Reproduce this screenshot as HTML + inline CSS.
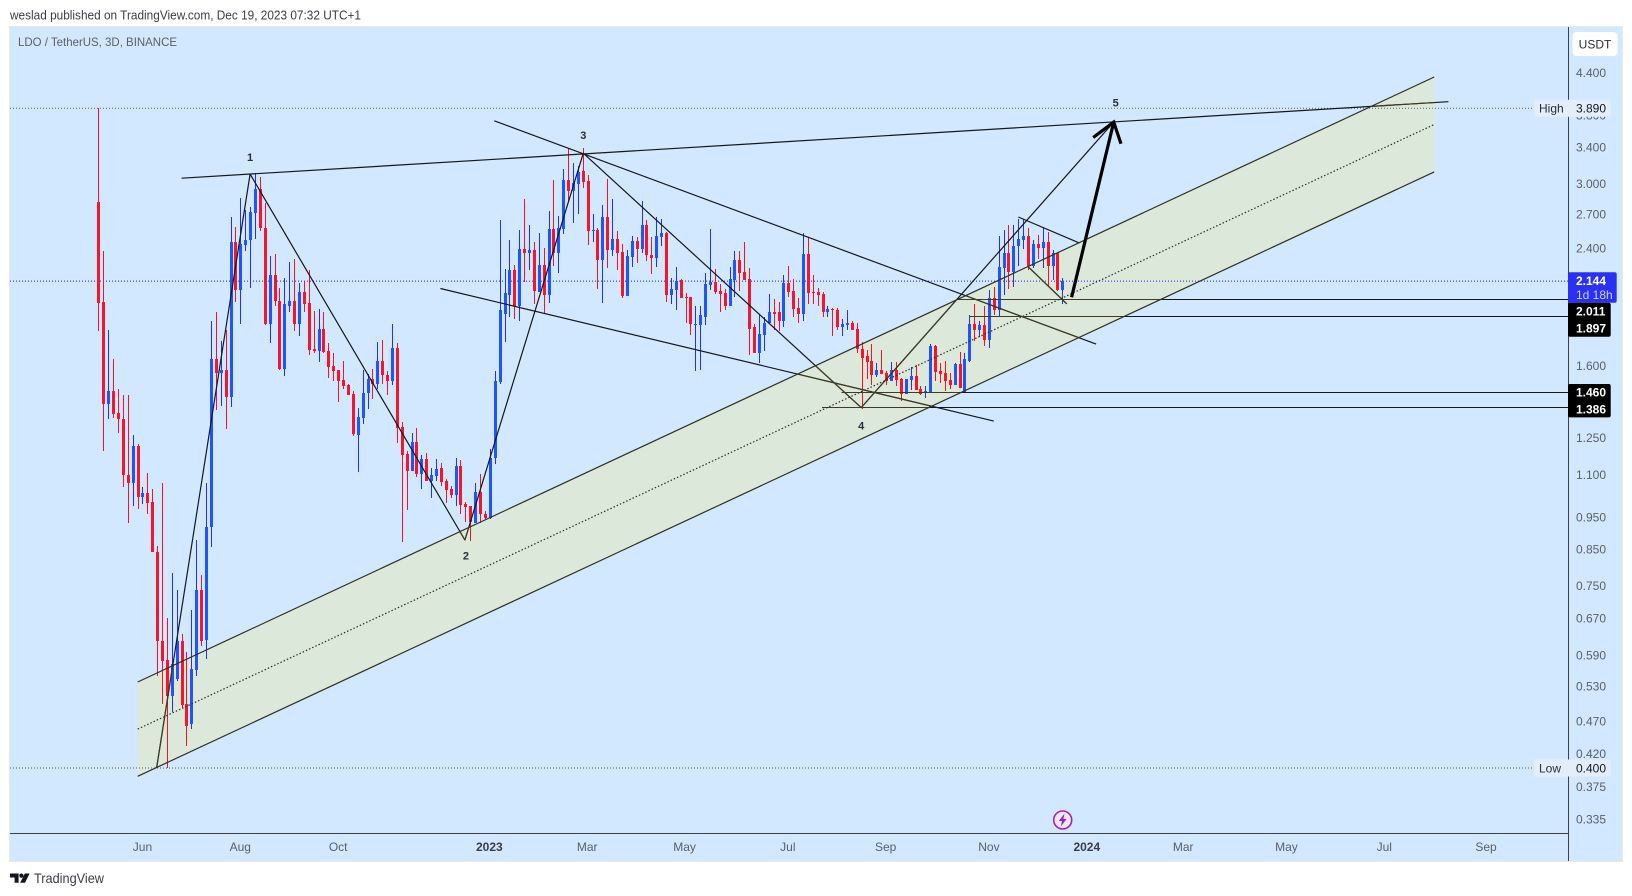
<!DOCTYPE html>
<html lang="en">
<head>
<meta charset="utf-8">
<title>LDO / TetherUS 3D chart</title>
<style>
html,body{margin:0;padding:0;background:#fff;width:1632px;height:896px;overflow:hidden}
svg{display:block;font-family:"Liberation Sans",sans-serif}
</style>
</head>
<body>
<svg id="chart" xmlns="http://www.w3.org/2000/svg" width="1632" height="896" viewBox="0 0 1632 896">
  <text x="10" y="19.5" font-size="13" fill="#3a3d45" textLength="351" lengthAdjust="spacingAndGlyphs">weslad published on TradingView.com, Dec 19, 2023 07:32 UTC+1</text>
  <rect x="9.5" y="26.5" width="1613" height="835" fill="#d1e8ff" stroke="#e8e9ec"/>
  <text x="18" y="46" font-size="12" fill="#5b6068" textLength="159" lengthAdjust="spacingAndGlyphs">LDO / TetherUS, 3D, BINANCE</text>
  <g id="overlays" color="#15171c"></g>
  <g id="axes"></g>
  <g>
    <circle cx="1062.7" cy="820" r="9" fill="#f4e6f7" stroke="#9c27b0" stroke-width="1.6"/>
    <polygon points="1064.5,813.5 1058.8,821 1062,821 1060.8,826.5 1066.6,819 1063.4,819" fill="#9c27b0"/>
  </g>
  <g>
    <path d="M10 873.5h8.6v9.3h-4v-5.3h-4.6z" fill="#131722"/>
    <circle cx="21.4" cy="875.6" r="2.1" fill="#131722"/>
    <polygon points="24.8,873.5 29.6,873.5 25,882.8 20.2,882.8" fill="#131722"/>
    <text x="34" y="883" font-size="14" fill="#3a3d45" textLength="70" lengthAdjust="spacingAndGlyphs">TradingView</text>
  </g>
</svg>
<script>
// ---- candle data (3D bars, USDT) ----
const opens = [
2.813,1.998,1.405,1.469,1.362,1.334,1.100,1.067,1.215,1.019,
1.033,1.001,.843,.620,.580,.513,.543,.620,.499,.465,
.561,.739,.622,.918,1.636,1.563,1.579,1.439,2.450,2.076,
2.425,2.467,2.710,2.942,2.572,1.852,2.186,2.005,1.585,1.970,
2.005,1.852,2.062,1.991,1.699,1.687,1.820,1.687,1.602,1.580,
1.526,1.500,1.454,1.262,1.339,1.459,1.531,1.505,1.630,1.552,
1.521,1.705,1.298,1.182,1.115,1.232,1.104,1.162,1.077,1.096,
1.126,1.077,1.048,1.026,1.134,.995,.988,.932,1.037,.961,
.948,1.166,1.516,1.911,2.040,2.224,1.964,2.392,2.359,2.383,
2.062,2.270,2.040,2.563,2.359,2.563,3.036,2.922,2.994,3.131,
3.026,2.545,2.554,2.302,2.671,2.383,2.476,2.367,2.033,2.326,
2.459,2.392,2.598,2.342,2.318,2.494,2.527,2.040,2.076,2.149,
2.026,2.026,1.840,1.840,1.897,2.113,2.134,2.069,2.054,1.964,
2.149,2.302,2.209,2.156,1.827,1.675,1.783,1.858,1.930,1.924,
1.871,2.127,2.069,1.957,1.911,2.350,2.062,2.062,2.048,1.924,
1.950,1.943,1.833,1.840,1.858,1.820,1.699,1.653,1.630,1.552,
1.580,1.563,1.521,1.580,1.531,1.454,1.526,1.547,1.479,1.459,
1.464,1.711,1.574,1.563,1.526,1.500,1.613,1.459,1.630,1.846,
1.808,1.840,1.752,2.019,1.943,2.240,2.359,2.209,2.416,2.467,
2.503,2.262,2.433,2.400,2.450,2.262,2.359,2.076];
const highs = [
3.890,2.375,1.808,1.641,1.479,1.449,1.445,1.262,1.223,1.055,
1.107,1.048,.860,1.070,.671,.784,.739,.635,.597,.690,
.878,.778,1.070,1.865,1.924,1.746,1.808,2.671,2.581,2.852,
2.736,2.765,3.109,3.068,2.804,2.334,2.350,2.090,2.164,2.286,
2.310,2.127,2.142,2.224,1.937,1.950,1.930,1.734,1.675,1.580,
1.630,1.505,1.469,1.386,1.580,1.558,1.585,1.740,1.752,1.574,
1.852,1.734,1.320,1.194,1.271,1.293,1.178,1.186,1.126,1.162,
1.146,1.085,1.059,1.166,1.158,1.001,.988,1.070,1.104,.971,
1.203,1.574,2.644,2.232,2.467,2.270,2.554,2.843,2.598,2.450,
2.527,2.400,2.727,3.036,2.681,3.153,3.397,3.219,3.186,3.397,
3.089,2.699,2.572,2.784,3.046,2.843,2.545,2.433,2.383,2.503,
2.494,2.823,2.644,2.494,2.671,2.653,2.536,2.164,2.247,2.156,
2.054,2.026,1.964,1.970,2.201,2.563,2.232,2.120,2.083,2.247,
2.375,2.375,2.450,2.240,1.852,1.910,1.897,2.048,2.012,1.998,
2.186,2.255,2.156,2.019,2.527,2.494,2.186,2.090,2.062,1.970,
1.957,1.957,1.878,1.943,1.865,1.858,1.740,1.693,1.728,1.619,
1.693,1.574,1.624,1.624,1.536,1.531,1.596,1.607,1.495,1.495,
1.728,1.717,1.619,1.630,1.563,1.619,1.681,1.675,1.904,1.984,
1.871,1.970,2.076,2.098,2.503,2.554,2.598,2.598,2.653,2.653,
2.572,2.467,2.511,2.581,2.536,2.383,2.359,2.164];
const lows = [
1.802,1.194,1.334,1.339,1.271,1.055,.932,.988,.978,.995,
.961,.843,.549,.499,.400,.485,.540,.492,.431,.457,
.549,.609,.582,.857,1.376,1.395,1.289,1.391,1.998,1.852,
2.375,2.090,2.475,2.545,1.840,1.729,1.970,1.580,1.547,1.930,
1.802,1.776,1.930,1.663,1.675,1.624,1.675,1.536,1.521,1.415,
1.479,1.445,1.258,1.111,1.311,1.381,1.430,1.479,1.505,1.445,
1.500,1.227,.872,.974,1.115,1.092,1.048,1.077,1.015,1.077,
1.059,.998,1.015,.988,.961,.935,.875,.932,.932,.945,
.945,1.139,1.505,1.735,1.897,1.878,1.865,2.134,2.224,1.978,
2.062,1.917,1.991,2.262,2.201,2.519,2.813,2.618,2.699,2.952,
2.425,2.450,2.083,1.991,2.240,2.334,2.224,2.019,2.033,2.247,
2.279,2.358,2.295,2.194,2.247,2.416,1.998,1.984,1.943,2.019,
1.858,1.783,1.574,1.580,1.840,2.076,2.048,1.930,1.943,1.964,
2.026,2.069,2.149,1.663,1.675,1.619,1.687,1.846,1.808,1.802,
1.833,2.026,1.891,1.858,1.865,1.984,1.984,1.970,1.891,1.897,
1.776,1.808,1.776,1.808,1.814,1.675,1.381,1.531,1.500,1.541,
1.558,1.500,1.521,1.495,1.420,1.454,1.474,1.474,1.449,1.435,
1.464,1.521,1.510,1.469,1.479,1.500,1.484,1.459,1.624,1.746,
1.770,1.711,1.705,1.904,1.897,2.040,2.083,2.098,2.262,2.392,
2.224,2.240,2.310,2.240,2.105,2.149,2.069,1.978];
const closes = [
1.991,1.405,1.469,1.357,1.334,1.100,1.070,1.215,1.019,1.033,
.998,.843,.620,.578,.513,.572,.620,.497,.463,.563,
.739,.620,.918,1.636,1.563,1.579,1.439,2.450,2.076,2.433,
2.467,2.717,2.942,2.572,1.852,2.186,2.005,1.585,1.978,2.005,
1.846,2.062,1.984,1.693,1.687,1.820,1.681,1.596,1.574,1.521,
1.495,1.449,1.267,1.343,1.459,1.531,1.505,1.630,1.552,1.521,
1.705,1.293,1.178,1.115,1.232,1.104,1.162,1.077,1.100,1.123,
1.073,1.044,1.026,1.134,.991,.984,.935,1.037,.961,.948,
1.166,1.521,1.943,2.055,2.224,1.964,2.392,2.359,2.383,2.069,
2.270,2.040,2.563,2.359,2.572,3.036,2.922,3.005,3.120,3.015,
2.545,2.554,2.302,2.671,2.383,2.476,2.358,2.033,2.334,2.459,
2.392,2.598,2.342,2.318,2.503,2.527,2.040,2.083,2.142,2.019,
2.019,1.846,1.846,1.904,2.120,2.134,2.062,2.048,1.964,2.156,
2.302,2.201,2.149,1.820,1.675,1.789,1.858,1.930,1.917,1.871,
2.127,2.062,1.950,1.911,2.350,2.054,2.054,2.040,1.924,1.950,
1.943,1.833,1.846,1.858,1.814,1.699,1.647,1.624,1.552,1.580,
1.558,1.521,1.580,1.526,1.454,1.531,1.547,1.474,1.454,1.469,
1.711,1.569,1.558,1.521,1.500,1.613,1.484,1.636,1.846,1.814,
1.840,1.752,2.019,1.943,2.247,2.359,2.209,2.416,2.476,2.503,
2.262,2.433,2.400,2.450,2.262,2.358,2.076,2.144];

// ---- axis labels ----
const priceTicks = [4.4,3.8,3.4,3.0,2.7,2.4,1.6,1.25,1.1,.95,.85,.75,.67,.59,.53,.47,.42,.375,.335];
const timeLabels = ["Jun","Aug","Oct","2023","Mar","May","Jul","Sep","Nov","2024","Mar","May","Jul","Sep"];
const timeBars = [8.9,28.9,48.9,79.8,99.8,119.7,140.8,160.8,181.9,201.9,221.6,242.7,262.7,283.5];

// ---- reference values ----
const highPrice = 3.89;
const lowPrice = 0.4;
const lastPrice = 2.144;
const levelPrices = [2.011,1.897,1.46,1.386];
const levelStartBars = [175.5,177.8,151.8,147.8];

// ---- drawings, as [bar index, price] ----
const wavePath = [[11.8,.4],[30.9,3.1],[74.8,.878],[99,3.332],[155.8,1.386],[207.4,3.709]];
const topTrend = [[16.9,3.057],[275.8,3.98]];
const upperWedge = [[80.8,3.726],[203.8,1.725]];
const lowerWedge = [[69.8,2.09],[182.9,1.323]];
const flagUpper = [[187.9,2.674],[200.4,2.444]];
const flagLower = [[190,2.249],[197.8,1.982]];
const channelUpper = [[7.93,.538],[272.9,4.333]];
const channelLower = [[7.93,.3887],[272.9,3.124]];
const arrowShaft = [[198.8,2.028],[207.4,3.709]];
const arrowHead = [[203.2,3.517],[207.4,3.709],[208.9,3.443]];
const waveLabels = ["1","2","3","4","5"];
const waveLabelBars = [30.9,75,99,155.8,207.8];
const waveLabelPrices = [3.29,.832,3.545,1.302,3.97];

// ---- axis functions ----
function xScale(bar){ return 98.9 + 4.893*bar; }
function yScale(price){ return 108.3 + 290*Math.log(3.89/price); }

const NS = "http://www.w3.org/2000/svg";
function mk(tag, parent, attrs){
  const el = document.createElementNS(NS, tag);
  for (const k in attrs) el.setAttribute(k, attrs[k]);
  parent.appendChild(el);
  return el;
}
function pts(list){ return list.map(function(p){ return xScale(p[0]).toFixed(1)+","+yScale(p[1]).toFixed(1); }).join(" "); }

const overlays = document.getElementById("overlays");
const axes = document.getElementById("axes");
const PLOT_RIGHT = 1568;

// channel fill
const channelPts = [channelUpper[0],channelUpper[1],channelLower[1],channelLower[0]];
const fill = mk("polygon", overlays, {points:pts(channelPts), fill:"#dce9da"});



// reference lines behind candles
function hDotted(price, color, name){
  const l = mk("line", overlays, {x1:10, x2:PLOT_RIGHT, y1:yScale(price), y2:yScale(price), stroke:color, "stroke-width":1, "stroke-dasharray":"1 2"});
  
  
}
hDotted(highPrice, "#5b6068", "high-price-line");
hDotted(lowPrice, "#5b6068", "low-price-line");
hDotted(lastPrice, "#1c1cf0", "last-price-line");

// candles
const candleLayer = mk("g", overlays, {"shape-rendering":"crispEdges"});


opens.forEach(function(o, i){
  const c = closes[i], up = c >= o;
  const col = Math.floor(xScale(i));
  const g = mk("g", candleLayer, {});
  
  
  const wy1 = Math.round(yScale(highs[i])), wy2 = Math.round(yScale(lows[i]));
  const wick = mk("rect", g, {x:col, y:wy1, width:1, height:Math.max(1,wy2-wy1), fill: up ? "#2430f0" : "#f8121f"});
  
  
  const by1 = Math.round(yScale(Math.max(o,c))), by2 = Math.round(yScale(Math.min(o,c)));
  const body = mk("rect", g, {x:col-1, y:by1, width:3, height:Math.max(1,by2-by1), fill: up ? "#1f55fb" : "#f5162c"});
  
  
});

// trend drawings (stroke follows currentColor so the tinted copy can recolour them)
const defs = mk("defs", overlays, {});
const clip = mk("clipPath", defs, {id:"channelClip"});
mk("polygon", clip, {points:pts(channelPts)});

const lines = mk("g", overlays, {id:"drawingLines", fill:"none", stroke:"currentColor", "stroke-width":1.2, "stroke-linejoin":"round"});


function drawLine(list, name){
  const l = mk("polyline", lines, {points:pts(list)});
  
  
}
drawLine(wavePath, "elliott-wave-path");
drawLine(topTrend, "top-trendline");
drawLine(upperWedge, "upper-wedge-line");
drawLine(lowerWedge, "lower-wedge-line");
drawLine(flagUpper, "flag-upper-line");
drawLine(flagLower, "flag-lower-line");
levelPrices.forEach(function(p, i){
  const l = mk("line", lines, {x1:xScale(levelStartBars[i]), x2:PLOT_RIGHT, y1:yScale(p), y2:yScale(p), "shape-rendering":"crispEdges", "stroke-width":1});
  
  
});

// same drawings tinted olive where the channel fill covers them
const tint = mk("use", overlays, {href:"#drawingLines", "clip-path":"url(#channelClip)", color:"#3d3c24"});



// channel borders and median
function chanLine(list, name, dash){
  const l = mk("polyline", overlays, {points:pts(list), fill:"none", stroke:"#2f3023", "stroke-width":1.2});
  if (dash) l.setAttribute("stroke-dasharray", dash);
  
  
}
chanLine(channelUpper, "channel-upper-line");
chanLine(channelLower, "channel-lower-line");
const channelMiddle = channelUpper.map(function(p, i){ return [p[0], Math.sqrt(p[1]*channelLower[i][1])]; });
chanLine(channelMiddle, "channel-median-line", "1.5 2");

// forecast arrow
const shaft = mk("polyline", overlays, {points:pts(arrowShaft), fill:"none", stroke:"#000", "stroke-width":3.2});


const head = mk("polyline", overlays, {points:pts(arrowHead), fill:"none", stroke:"#000", "stroke-width":3.2});



// wave labels
waveLabels.forEach(function(t, i){
  const el = mk("text", overlays, {x:xScale(waveLabelBars[i]), y:yScale(waveLabelPrices[i])+4, "font-size":11, "font-weight":"bold", "text-anchor":"middle", fill:"#2a2e39"});
  el.textContent = t;
  
  
});

// axis lines
const yAxisLine = mk("line", axes, {x1:PLOT_RIGHT+.5, x2:PLOT_RIGHT+.5, y1:27, y2:861, stroke:"#3c4048", "stroke-width":1});


const xAxisLine = mk("line", axes, {x1:10, x2:PLOT_RIGHT, y1:833.5, y2:833.5, stroke:"#3c4048", "stroke-width":1});



// price ticks
priceTicks.forEach(function(p){
  const el = mk("text", axes, {x:1576, y:yScale(p)+4.3, "font-size":12, fill:"#5b6068"});
  el.textContent = p.toFixed(3);
  
  
});

// time ticks
timeLabels.forEach(function(t, i){
  const bold = /^\d+$/.test(t);
  const el = mk("text", axes, {x:xScale(timeBars[i]), y:851, "font-size":12, "text-anchor":"middle", fill: bold ? "#3a3d45" : "#5b6068", "font-weight": bold ? "bold" : "normal"});
  el.textContent = t;
  
  
});

// USDT currency button
const usdBox = mk("rect", axes, {x:1572.5, y:32, width:45, height:24, rx:4, fill:"#fff"});


const usdText = mk("text", axes, {x:1595, y:48.3, "font-size":12, "text-anchor":"middle", fill:"#2a2e39"});
usdText.textContent = "USDT";



// High / Low tags
function hiLoTag(word, price){
  const y = yScale(price);
  const box = mk("rect", axes, {x:1534, y:y-8.5, width:76.7, height:17, rx:2, fill:"#e4eefa"});
  
  
  const w = mk("text", axes, {x:1539, y:y+4.3, "font-size":12, fill:"#2a2e39"});
  w.textContent = word;
  
  
  const v = mk("text", axes, {x:1576, y:y+4.3, "font-size":12, fill:"#131722"});
  v.textContent = price.toFixed(3);
  
  
}
hiLoTag("High", highPrice);
hiLoTag("Low", lowPrice);

// last price tag
const lastBox = mk("rect", axes, {x:1568, y:272.3, width:48.7, height:30.4, rx:2, fill:"#2a31f5"});


const lastText = mk("text", axes, {x:1576, y:285, "font-size":12, "font-weight":"bold", fill:"#fff"});
lastText.textContent = lastPrice.toFixed(3);


const countdown = mk("text", axes, {x:1576, y:299, "font-size":12, fill:"#cdd3ff"});
countdown.textContent = "1d 18h";



// black level tags
const tagBoxTops = [302.7,302.7,384,384];
const tagBoxHeights = [34,34,33.4,33.4];
const tagTextOffsets = [13,30,12.5,29.5];
[0,2].forEach(function(i){
  const box = mk("rect", axes, {x:1568, y:tagBoxTops[i], width:42.7, height:tagBoxHeights[i], rx:2, fill:"#000"});
  
  
});
levelPrices.forEach(function(p, i){
  const el = mk("text", axes, {x:1576, y:tagBoxTops[i]+tagTextOffsets[i], "font-size":12, "font-weight":"bold", fill:"#fff"});
  el.textContent = p.toFixed(3);
  
  
});
</script>
</body>
</html>
